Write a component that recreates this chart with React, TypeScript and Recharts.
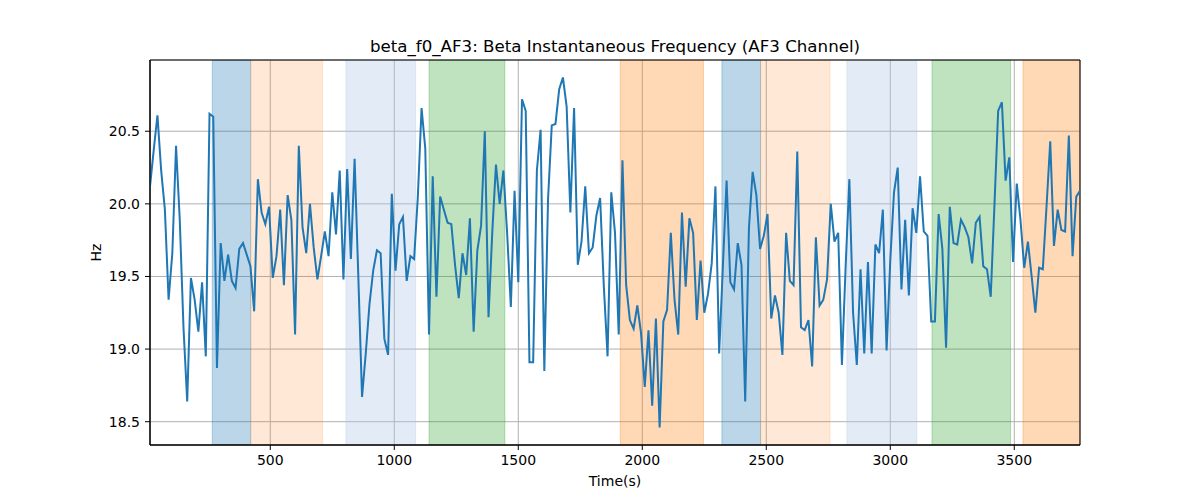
import { CartesianGrid, Label, Line, LineChart, ReferenceArea, XAxis, YAxis } from 'recharts'

// sampling grid of the beta_f0_AF3 feature (seconds)
const T0 = 15
const DT = 15

// Hz, one value per sample
const beta_f0_AF3 = [
  20.12, 20.37, 20.61, 20.23, 19.96, 19.34, 19.66, 20.40, 19.89, 19.15,
  18.64, 19.49, 19.34, 19.12, 19.46, 18.95, 20.62, 20.60, 18.87, 19.73,
  19.47, 19.65, 19.47, 19.42, 19.69, 19.73, 19.65, 19.57, 19.26, 20.17,
  19.94, 19.86, 19.98,
  19.49, 19.64, 19.96, 19.44, 20.06, 19.89, 19.10, 20.40, 19.84, 19.66,
  20.00, 19.70, 19.48, 19.64, 19.81, 19.64, 20.08, 19.79, 20.23, 19.48,
  20.24, 19.62, 20.31, 19.50, 18.67, 18.97, 19.31, 19.54, 19.68, 19.66,
  19.07,
  18.96, 20.07, 19.54, 19.86, 19.91, 19.47, 19.64, 19.62, 20.05, 20.66,
  20.38, 19.10, 20.19, 19.36, 20.05, 19.96, 19.87, 19.86, 19.58, 19.35,
  19.66, 19.51, 19.90, 19.12, 19.68, 19.85, 20.50, 19.22, 19.80, 20.27,
  20.00,
  20.23, 19.80, 19.29, 20.09, 19.46, 20.72, 20.64, 18.91, 18.91, 20.23,
  20.51, 18.85, 20.03, 20.54, 20.55, 20.79, 20.87, 20.67, 19.94, 20.66,
  19.58, 19.74, 20.12, 19.66, 19.70, 19.92, 20.04, 19.43, 18.95, 20.08,
  19.80,
  19.10, 20.30, 19.44, 19.20, 19.14, 19.30, 19.11, 18.74, 19.13, 18.61,
  19.21, 18.46, 19.19, 19.27, 19.80, 19.34, 19.10, 19.94, 19.43, 19.90,
  19.80, 19.20, 19.61, 19.25, 19.38, 19.59, 20.12, 18.97, 19.57, 20.16,
  19.46,
  19.41, 19.73, 19.58, 18.64, 19.83, 20.22, 20.06, 19.69, 19.78, 19.93,
  19.21, 19.37, 19.25, 18.96, 19.80, 19.47, 19.44, 20.36, 19.15, 19.13,
  19.20, 18.88, 19.77, 19.30, 19.34, 19.48, 20.00, 19.74, 19.80, 18.89,
  19.57,
  20.17, 19.25, 18.89, 19.55, 18.97, 19.60, 18.97, 19.72, 19.66, 19.96,
  18.99, 19.61, 20.08, 20.25, 19.41, 19.89, 19.37, 19.97, 19.80, 20.19,
  19.81, 19.78, 19.19, 19.19, 19.93, 19.69, 19.01, 19.98, 19.73, 19.72,
  19.89,
  19.84, 19.77, 19.59, 19.87, 19.91, 19.57, 19.55, 19.36, 19.99, 20.64,
  20.70, 20.16, 20.32, 19.60, 20.14, 19.89, 19.56, 19.74, 19.50, 19.25,
  19.56, 19.55, 19.98, 20.43, 19.71, 19.96, 19.82, 19.81, 20.47, 19.64,
  20.05, 20.09,
]

const xTicks = [500, 1000, 1500, 2000, 2500, 3000, 3500]
const yTicks = [18.5, 19.0, 19.5, 20.0, 20.5]

// shaded segments (seconds)
const bandStarts = [266, 421, 805, 1140, 1911, 2321, 2477, 2825, 3168, 3535]
const bandEnds = [421, 711, 1086, 1446, 2247, 2477, 2757, 3107, 3485, 3765]
const bandKinds = ['blue', 'peach', 'lavender', 'green', 'orange', 'blue', 'peach', 'lavender', 'green', 'orange']

const BAND_STYLE: Record<string, { color: string; alpha: number }> = {
  blue: { color: '#1f77b4', alpha: 0.3 },
  peach: { color: '#ff7f0e', alpha: 0.17 },
  lavender: { color: '#aec7e8', alpha: 0.35 },
  green: { color: '#2ca02c', alpha: 0.3 },
  orange: { color: '#ff7f0e', alpha: 0.3 },
}

const FONT = 'DejaVu Sans, sans-serif'

const chartData = beta_f0_AF3.map((hz, i) => ({ t: T0 + DT * i, hz }))

// matplotlib-like autoscale: 5% margin on y, tight on x
const xMin = chartData[0].t
const xMax = chartData[chartData.length - 1].t
const hzMin = Math.min(...beta_f0_AF3)
const hzMax = Math.max(...beta_f0_AF3)
const pad = (hzMax - hzMin) * 0.05
const yMin = hzMin - pad
const yMax = hzMax + pad

const tickStyle = { fill: '#000', fontSize: 14, fontFamily: FONT }

export default function App() {
  return (
    <div style={{ position: 'absolute', left: 0, top: 0, width: 1200, height: 500, background: '#fff' }}>
      <LineChart
        width={1200}
        height={500}
        data={chartData}
        margin={{ top: 60, right: 120, bottom: 25, left: 90 }}
      >
        <CartesianGrid stroke="#b0b0b0" strokeWidth={1} />
        {bandStarts.map((start, i) => {
          const s = BAND_STYLE[bandKinds[i]]
          return (
            <ReferenceArea
              key={i}
              x1={start}
              x2={bandEnds[i]}
              y1={yMin}
              y2={yMax}
              fill={s.color}
              fillOpacity={s.alpha}
              stroke={s.color}
              strokeOpacity={s.alpha}
              ifOverflow="hidden"
            />
          )
        })}
        <XAxis
          dataKey="t"
          type="number"
          domain={[xMin, xMax]}
          ticks={xTicks}
          interval={0}
          allowDataOverflow
          height={30}
          tickSize={5}
          tickMargin={5}
          axisLine={{ stroke: '#000' }}
          tickLine={{ stroke: '#000' }}
          tick={tickStyle}
        >
          <Label
            content={({ viewBox }: any) => (
              <text
                x={viewBox.x + viewBox.width / 2}
                y={viewBox.y + 41}
                textAnchor="middle"
                fontSize={14}
                fontFamily={FONT}
                fill="#000"
              >
                Time(s)
              </text>
            )}
          />
        </XAxis>
        <YAxis
          type="number"
          domain={[yMin, yMax]}
          ticks={yTicks}
          interval={0}
          allowDataOverflow
          width={60}
          tickSize={5}
          tickMargin={5}
          tickFormatter={(v: number) => v.toFixed(1)}
          axisLine={{ stroke: '#000' }}
          tickLine={{ stroke: '#000' }}
          tick={tickStyle}
        >
          <Label
            content={({ viewBox }: any) => {
              const cx = viewBox.x + 11
              const cy = viewBox.y + viewBox.height / 2
              return (
                <text
                  x={cx}
                  y={cy}
                  transform={`rotate(-90, ${cx}, ${cy})`}
                  textAnchor="middle"
                  fontSize={14}
                  fontFamily={FONT}
                  fill="#000"
                >
                  Hz
                </text>
              )
            }}
          />
        </YAxis>
        <Line
          type="linear"
          dataKey="hz"
          stroke="#1f77b4"
          strokeWidth={2}
          dot={false}
          activeDot={false}
          isAnimationActive={false}
        />
        {/* axes frame + title */}
        <ReferenceArea x1={xMin} x2={xMax} y1={yMin} y2={yMax} fill="none" stroke="#000" strokeWidth={1}>
          <Label
            value="beta_f0_AF3: Beta Instantaneous Frequency (AF3 Channel)"
            position="top"
            offset={8}
            fontSize={16.67}
            fontFamily={FONT}
            fill="#000"
          />
        </ReferenceArea>
      </LineChart>
    </div>
  )
}
